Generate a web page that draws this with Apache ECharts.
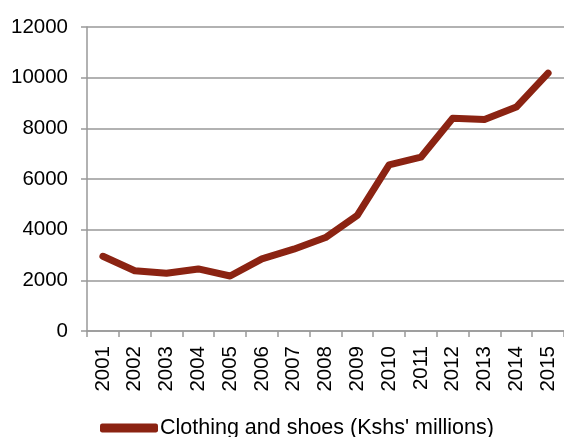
<!DOCTYPE html>
<html><head><meta charset="utf-8">
<script src="https://cdn.jsdelivr.net/npm/echarts@6/dist/echarts.min.js"></script>
<style>html,body{margin:0;padding:0;background:#fff}#c{width:564px;height:437px}</style>
</head><body><div id="c"></div>
<script>
const years = ['2001','2002','2003','2004','2005','2006','2007','2008','2009','2010','2011','2012','2013','2014','2015'];
const clothing = [2950, 2380, 2280, 2450, 2170, 2850, 3230, 3690, 4560, 6560, 6860, 8400, 8350, 8840, 10180];
const seriesName = "Clothing and shoes (Kshs' millions)";
const FONT = 'Liberation Sans, Arial, sans-serif';
const chart = echarts.init(document.getElementById('c'));
chart.setOption({
  animation: false,
  textStyle: {fontFamily: FONT},
  grid: {left: 87, top: 27, width: 478, height: 304, containLabel: false},
  legend: {
    top: 417, left: 100, itemWidth: 58, itemHeight: 9, itemGap: 2, padding: 0,
    textStyle: {fontSize: 21.5, color: '#000', fontFamily: FONT, padding: [0,0,0,-3]},
    icon: 'roundRect',
    data: [seriesName]
  },
  xAxis: {
    type: 'category', data: years, boundaryGap: true,
    axisLine: {lineStyle: {color: '#999', width: 1.5}},
    axisTick: {show: true, length: 6, lineStyle: {color: '#999', width: 1.5}},
    axisLabel: {rotate: 90, fontSize: 20.5, color: '#000', margin: 15, fontFamily: FONT}
  },
  yAxis: {
    type: 'value', min: 0, max: 12000, interval: 2000,
    axisLine: {show: true, lineStyle: {color: '#999', width: 1.5}},
    axisTick: {show: true, length: 6, lineStyle: {color: '#999', width: 1.5}},
    splitLine: {lineStyle: {color: '#999', width: 1.5}},
    axisLabel: {fontSize: 20.5, color: '#000', margin: 19, fontFamily: FONT, formatter: v => String(v)}
  },
  series: [{
    name: seriesName, type: 'line', data: clothing,
    symbol: 'none', lineStyle: {color: '#8B2312', width: 7, cap: 'round', join: 'round'},
    itemStyle: {color: '#8B2312'}
  }]
});
</script></body></html>
